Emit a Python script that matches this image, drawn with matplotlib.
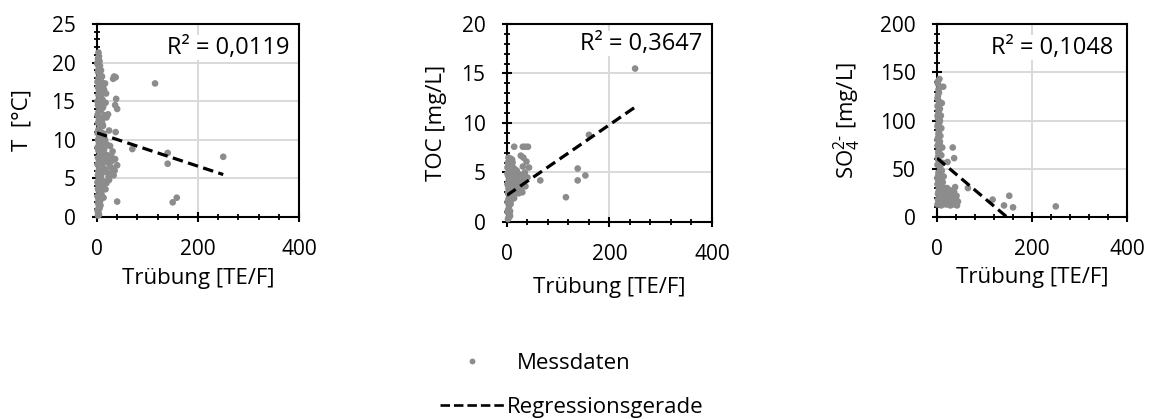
import numpy as np
import matplotlib
matplotlib.use("Agg")
import matplotlib.pyplot as plt
from matplotlib.lines import Line2D
from matplotlib.ticker import MultipleLocator

plt.rcParams['font.family'] = ['Open Sans', 'DejaVu Sans']
plt.rcParams['mathtext.fontset'] = 'custom'
plt.rcParams['mathtext.rm'] = 'Open Sans'
plt.rcParams['mathtext.it'] = 'Open Sans'

# Panel 1: temperature vs turbidity
turb_t = [3, 2, 5, 1, 4, 2, 6, 3, 1, 5, 2, 4, 3, 6, 1, 2, 5, 3, 1, 4, 2, 6, 3, 1, 5,
          2, 4, 1, 3, 6, 2, 4, 1, 5, 3, 2, 4, 1, 3, 2, 5, 1, 3, 2, 4, 1, 3, 2, 6, 5,
          8, 10, 9, 12, 14, 8, 11, 13, 9, 15, 10, 12, 8, 14, 11, 9, 13, 15, 10, 12,
          8, 14, 11, 9, 13, 7, 16, 18, 17, 19, 18, 20, 16, 19, 17,
          4, 1, 6, 3, 7, 5, 8, 4, 7, 5, 9, 6, 4, 8, 6, 7, 4, 9, 6, 8, 5, 7, 2, 4,
          10, 12, 11, 13, 16, 18, 20, 22, 24, 14, 12,
          22, 24, 21, 26, 25, 28, 30, 27, 29, 23, 32, 33, 35, 31, 36, 40, 34, 37,
          32, 38, 36, 40, 37, 40, 70, 115, 140, 140, 150, 158, 250]
temp = [21.3, 20.5, 20.2, 19.8, 19.3, 18.8, 18.5, 18.0, 17.5, 17.2, 16.8, 16.3, 15.8,
        15.4, 15.0, 14.5, 14.1, 13.6, 13.2, 12.7, 12.2, 11.8, 11.3, 10.9, 10.4, 10.0,
        9.5, 9.0, 8.6, 8.1, 7.7, 7.2, 6.8, 6.3, 5.9, 5.4, 5.0, 4.5, 4.1, 3.6, 3.2, 2.7,
        2.3, 1.8, 1.4, 0.9, 0.5, 0.2, 2.0, 1.1,
        19.0, 18.2, 17.5, 17.0, 16.5, 16.0, 15.2, 14.6, 14.0, 13.2, 12.5, 11.8, 11.0,
        10.3, 9.6, 8.8, 8.2, 7.5, 6.8, 6.0, 5.3, 4.6, 3.9, 3.0, 2.5, 1.5, 17.3, 16.0,
        14.8, 12.9, 9.5, 8.0, 6.2, 4.4, 3.6,
        20.8, 20.0, 19.6, 19.0, 18.0, 16.6, 15.5, 14.8, 13.8, 12.9, 12.0, 10.8, 10.2,
        9.2, 8.6, 7.0, 6.0, 5.6, 4.8, 4.0, 2.4, 3.4, 0.6, 0.3,
        16.8, 14.2, 12.0, 10.8, 10.0, 7.2, 5.8, 7.0, 4.8, 8.7, 7.8,
        13.3, 11.2, 9.3, 9.2, 7.8, 8.0, 7.3, 6.5, 5.6, 5.2, 6.2, 5.4, 6.0, 8.5, 7.5,
        6.7, 18.2, 18.1, 17.9, 15.3, 14.5, 14.0, 11.0, 2.0, 8.8, 17.3, 8.3, 6.9, 1.9,
        2.5, 7.8]

# Panel 2: TOC vs turbidity
turb_toc = [3, 5, 2, 4, 6, 1, 3, 7, 5, 2, 8, 4, 6, 1, 3, 9, 7, 5, 2, 4, 6, 3, 8, 5, 7,
            10, 11, 12, 9, 10, 13, 14, 12, 15, 16, 11, 14, 18, 17, 20, 19, 22, 21, 24,
            23, 26, 25, 28, 30, 27, 1, 2, 4, 6, 3, 1,
            2, 4, 6, 8, 3, 5, 7, 9, 11, 13, 6, 10, 15, 17, 19, 21, 25, 29, 12, 14,
            18, 7, 1, 3,
            14, 31, 36, 41, 27, 32, 38, 43, 31, 35, 40, 33, 36, 30,
            65, 115, 138, 138, 153, 160, 250]
toc = [0.4, 0.8, 1.2, 1.6, 1.1, 2.0, 2.3, 1.8, 2.6, 2.9, 2.2, 3.2, 3.5, 3.8, 4.1, 2.7,
       3.0, 4.4, 4.7, 5.0, 5.3, 5.6, 5.9, 6.2, 6.4, 3.3, 4.0, 4.6, 5.1, 5.6, 3.6, 3.0,
       2.6, 4.2, 5.0, 6.0, 5.4, 3.3, 4.6, 3.8, 5.2, 3.2, 4.4, 3.6, 2.9, 4.1, 4.8, 3.4,
       3.0, 3.9, 5.5, 6.0, 5.8, 0.6, 3.0, 1.0,
       0.3, 1.0, 1.9, 2.8, 3.4, 3.8, 4.4, 4.0, 4.8, 5.2, 6.0, 6.3, 3.4, 3.9, 4.3, 3.6,
       3.2, 3.7, 3.0, 2.4, 2.9, 2.4, 4.9, 6.5,
       7.6, 7.6, 7.6, 7.6, 6.7, 6.5, 6.1, 5.5, 5.6, 5.0, 4.5, 4.3, 3.6, 4.7,
       4.2, 2.5, 5.4, 4.2, 4.7, 8.8, 15.5]

# Panel 3: sulfate vs turbidity
turb_so4 = [1, 3, 2, 4, 1, 6, 3, 2, 5, 1, 4, 3, 2, 6, 1, 5, 3, 2, 4, 1, 7, 3, 2, 5, 1,
            4, 3, 8, 2, 6, 1, 10, 8, 9, 7, 11, 9, 12, 10, 14, 12, 16, 11, 15, 13, 18,
            20, 22, 19, 24, 26, 28, 30, 32, 35, 38, 40, 42, 44, 36, 25, 5, 13,
            2, 4, 1, 5, 3, 1, 6, 2, 4, 1, 5, 3, 2, 6, 4, 1, 3, 5, 2, 7, 4, 9, 8, 10,
            12, 14, 16, 18, 21, 23, 27, 29, 34, 37, 41, 31,
            33, 36, 65, 117, 141, 152, 160, 250]
so4 = [140, 132, 126, 120, 115, 112, 108, 102, 98, 94, 90, 86, 82, 78, 74, 70, 66, 62,
       58, 54, 50, 46, 42, 38, 34, 30, 26, 22, 18, 15, 13, 118, 105, 92, 84, 72, 64,
       56, 48, 42, 36, 30, 25, 20, 14, 17, 24, 57, 13, 19, 28, 12, 16, 22, 14, 31, 18,
       12, 16, 26, 13, 143, 135,
       138, 129, 123, 117, 111, 105, 100, 96, 88, 80, 76, 68, 60, 52, 44, 40, 36, 28,
       24, 20, 16, 12, 30, 38, 18, 26, 14, 22, 30, 15, 20, 25, 19, 13, 22, 13,
       72, 61, 30, 18, 12, 22, 10, 11]

# regression lines as shown (start/end)
fit_x = [[0, 250], [0, 250], [0, 147]]
fit_y = [[10.9, 5.5], [2.7, 11.6], [61, 0]]
r2_labels = ["R² = 0,0119", "R² = 0,3647", "R² = 0,1048"]
y_labels = ["T  [°C]", "TOC [mg/L]", r"SO$_4^{2\text{-}}$ [mg/L]"]
y_max = [25, 20, 200]
y_major = [5, 5, 50]
y_minor = [1, 1, 10]

xs = [turb_t, turb_toc, turb_so4]
ys = [temp, toc, so4]
positions = [[0.0841, 0.4821, 0.1752, 0.4606],
             [0.4397, 0.4702, 0.1778, 0.4726],
             [0.8127, 0.4821, 0.1648, 0.4606]]
r2_pos = [(0.955, 0.876), (0.951, 0.899), (0.926, 0.876)]
ylab_x = [-0.317, -0.293, -0.389]
xlab_y = [-0.264, -0.278, -0.259]

grey = '#8c8c8c'
fs = 15
fig = plt.figure(figsize=(11.53, 4.19), dpi=100)

for i in range(3):
    ax = fig.add_axes(positions[i])
    ax.scatter(xs[i], ys[i], s=23, color=grey, edgecolors='none', zorder=3, clip_on=False)
    ax.plot(fit_x[i], fit_y[i], color='black', lw=2.3, dashes=(3.3, 1.7), zorder=4)
    ax.set_xlim(0, 400)
    ax.set_ylim(0, y_max[i])
    ax.xaxis.set_major_locator(MultipleLocator(200))
    ax.xaxis.set_minor_locator(MultipleLocator(40))
    ax.yaxis.set_major_locator(MultipleLocator(y_major[i]))
    ax.yaxis.set_minor_locator(MultipleLocator(y_minor[i]))
    ax.grid(True, which='major', color='#d9d9d9', lw=1.4, zorder=0)
    ax.set_axisbelow(True)
    for sp in ax.spines.values():
        sp.set_linewidth(1.5)
        sp.set_color('black')
    ax.tick_params(which='major', length=7, width=1.5, labelsize=fs, direction='inout', pad=12)
    ax.tick_params(which='minor', length=4.5, width=1.3, direction='inout')
    ax.tick_params(top=False, right=False, which='both')
    ax.set_xlabel("Trübung [TE/F]", fontsize=fs + 1)
    ax.set_ylabel(y_labels[i], fontsize=fs + 1)
    ax.xaxis.set_label_coords(0.5, xlab_y[i])
    ax.yaxis.set_label_coords(ylab_x[i], 0.5)
    ax.text(r2_pos[i][0], r2_pos[i][1], r2_labels[i], transform=ax.transAxes,
            ha='right', va='center', fontsize=fs + 2, zorder=5,
            bbox=dict(facecolor='white', edgecolor='none', pad=0.3))

h_pts = Line2D([], [], ls='none', marker='o', markersize=4.2, color=grey,
               markeredgecolor='none')
h_fit = Line2D([], [], color='black', lw=1.9, dashes=(3.6, 1.5))
leg1 = fig.legend([h_pts], ["Messdaten"], loc='center left',
                  bbox_to_anchor=(440 / 1153, 1 - 363 / 419), frameon=False, fontsize=fs + 1,
                  handlelength=2.9, handletextpad=0.55, borderpad=0, borderaxespad=0)
leg2 = fig.legend([h_fit], ["Regressionsgerade"], loc='center left',
                  bbox_to_anchor=(440 / 1153, 1 - 407 / 419), frameon=False, fontsize=fs + 1,
                  handlelength=2.9, handletextpad=0.1, borderpad=0, borderaxespad=0)

fig.savefig("out.png", dpi=100)
